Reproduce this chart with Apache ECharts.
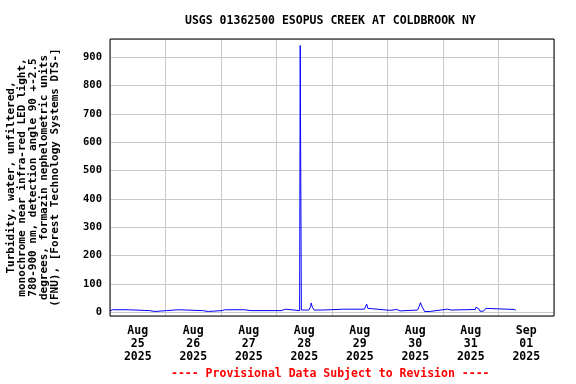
<!DOCTYPE html>
<html>
<head>
<meta charset="utf-8">
<script src="https://cdn.jsdelivr.net/npm/echarts@6/dist/echarts.min.js"></script>
<style>
  html, body { margin: 0; padding: 0; background: #fff; }
  #chart { width: 576px; height: 384px; }
</style>
</head>
<body>
<div id="chart"></div>
<script>
'use strict';

// day labels, centered on each day band
const dayLabels = ['Aug\n25\n2025', 'Aug\n26\n2025', 'Aug\n27\n2025', 'Aug\n28\n2025',
  'Aug\n29\n2025', 'Aug\n30\n2025', 'Aug\n31\n2025', 'Sep\n01\n2025'];

// turbidity readings (FNU)
const times = [
  '2025-08-25 00:00', '2025-08-25 01:00', '2025-08-25 08:00', '2025-08-25 08:30',
  '2025-08-25 17:00', '2025-08-25 17:30', '2025-08-25 19:30', '2025-08-25 20:00',
  '2025-08-26 00:30', '2025-08-26 01:00', '2025-08-26 05:30', '2025-08-26 06:00',
  '2025-08-26 16:00', '2025-08-26 16:30', '2025-08-26 18:30', '2025-08-26 19:00',
  '2025-08-27 00:30', '2025-08-27 01:00', '2025-08-27 01:30', '2025-08-27 10:00',
  '2025-08-27 10:30', '2025-08-27 13:00', '2025-08-27 13:15', '2025-08-27 13:30',
  '2025-08-27 14:15', '2025-08-27 14:30', '2025-08-27 14:45', '2025-08-28 02:00',
  '2025-08-28 02:30', '2025-08-28 04:00', '2025-08-28 04:30', '2025-08-28 10:00',
  '2025-08-28 10:15', '2025-08-28 10:30', '2025-08-28 10:45', '2025-08-28 14:00',
  '2025-08-28 14:45', '2025-08-28 15:00', '2025-08-28 15:30', '2025-08-28 16:15',
  '2025-08-28 20:00', '2025-08-28 20:30', '2025-08-29 05:00', '2025-08-29 05:30',
  '2025-08-29 06:00', '2025-08-29 14:00', '2025-08-29 14:30', '2025-08-29 15:00',
  '2025-08-29 15:30', '2025-08-29 16:00', '2025-08-30 01:00', '2025-08-30 01:30',
  '2025-08-30 04:00', '2025-08-30 04:30', '2025-08-30 05:30', '2025-08-30 06:00',
  '2025-08-30 13:00', '2025-08-30 13:45', '2025-08-30 14:15', '2025-08-30 14:45',
  '2025-08-30 15:30', '2025-08-30 16:00', '2025-08-30 18:30', '2025-08-30 19:00',
  '2025-08-30 21:00', '2025-08-30 21:30', '2025-08-31 02:00', '2025-08-31 02:30',
  '2025-08-31 03:30', '2025-08-31 04:00', '2025-08-31 14:00', '2025-08-31 14:15',
  '2025-08-31 14:30', '2025-08-31 14:45', '2025-08-31 15:00', '2025-08-31 15:30',
  '2025-08-31 16:00', '2025-08-31 17:30', '2025-08-31 18:30', '2025-08-31 19:00',
  '2025-09-01 07:00', '2025-09-01 07:30', '2025-09-01 07:45'
];
const turbidity = [
  5, 9, 9, 6,
  6, 3, 3, 6,
  6, 9, 9, 6,
  6, 3, 3, 6,
  6, 11, 9, 9,
  6, 6, 3, 6,
  6, 3, 6, 6,
  11, 11, 6, 6,
  941, 475, 8, 8,
  20, 33, 18, 8,
  8, 11, 11, 14,
  11, 11, 18, 29,
  14, 7, 7, 10,
  10, 5, 5, 8,
  8, 22, 34, 22,
  12, 3, 3, 6,
  6, 11, 11, 8,
  8, 10, 10, 18,
  14, 20, 12, 12,
  4, 4, 14, 10,
  10, 7, 7
];

const font = 'DejaVu Sans Mono';
const instance = echarts.init(document.getElementById('chart'));
instance.setOption({
  animation: false,
  title: {
    text: 'USGS 01362500 ESOPUS CREEK AT COLDBROOK NY',
    left: 180,
    top: 10,
    textStyle: { fontFamily: font, fontSize: 11.5, fontWeight: 'bold', color: '#000' }
  },
  graphic: [{
    type: 'text',
    left: 171,
    top: 368,
    style: {
      text: '---- Provisional Data Subject to Revision ----',
      fontFamily: font, fontSize: 11.5, fontWeight: 'bold', fill: '#ff0000'
    }
  }],
  grid: {
    left: 110, right: 22, top: 39, bottom: 68, z: 5,
    outerBoundsMode: 'none',
    show: true, borderColor: '#000', borderWidth: 1, backgroundColor: 'transparent'
  },
  xAxis: [{
    type: 'time',
    min: '2025-08-25 00:00',
    max: '2025-09-02 00:00',
    axisLine: { show: false },
    axisTick: { show: false },
    axisLabel: { show: false },
    splitLine: { show: false }
  }, {
    type: 'category',
    data: dayLabels,
    boundaryGap: true,
    position: 'bottom',
    axisLine: { show: false },
    axisTick: { show: false },
    splitLine: { show: true, lineStyle: { color: '#c8c8c8', width: 1 } },
    axisLabel: {
      margin: 9, fontFamily: font, fontSize: 11.5, fontWeight: 'bold',
      color: '#000', lineHeight: 13
    }
  }],
  yAxis: {
    type: 'value',
    min: -13,
    max: 964,
    splitNumber: 10,
    name: 'Turbidity, water, unfiltered,\nmonochrome near infra-red LED light,\n780-900 nm, detection angle 90 +-2.5\ndegrees, formazin nephelometric units\n(FNU), [Forest Technology Systems DTS-]',
    nameLocation: 'middle',
    nameRotate: 90,
    nameGap: 49,
    nameTextStyle: { fontFamily: font, fontSize: 11, fontWeight: 'bold', color: '#000', lineHeight: 11 },
    axisLine: { show: false },
    axisTick: { show: false },
    axisLabel: {
      margin: 8, fontFamily: font, fontSize: 10.5, fontWeight: 'bold', color: '#000',
      showMinLabel: false, showMaxLabel: false
    },
    splitLine: { lineStyle: { color: '#c8c8c8', width: 1 } }
  },
  series: [{
    type: 'line',
    xAxisIndex: 0,
    data: times.map((t, i) => [t, turbidity[i]]),
    showSymbol: false,
    lineStyle: { color: '#0000ff', width: 1 },
    itemStyle: { color: '#0000ff' }
  }]
});
window.onresize = () => {
  instance.resize();
};
</script>
</body>
</html>
